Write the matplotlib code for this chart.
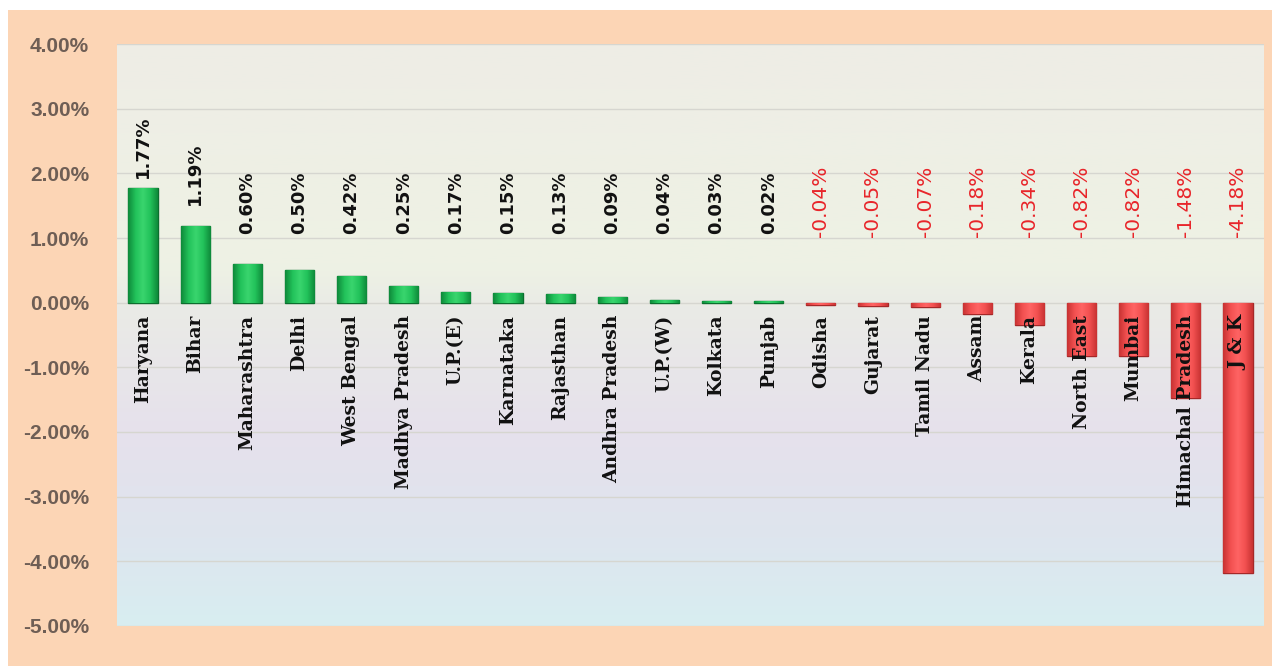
import matplotlib
matplotlib.use("Agg")
import matplotlib.pyplot as plt
import numpy as np
from matplotlib.colors import LinearSegmentedColormap
from matplotlib.patches import Rectangle

categories = ["Haryana", "Bihar", "Maharashtra", "Delhi", "West Bengal", "Madhya Pradesh",
              "U.P.(E)", "Karnataka", "Rajasthan", "Andhra Pradesh", "U.P.(W)", "Kolkata",
              "Punjab", "Odisha", "Gujarat", "Tamil Nadu", "Assam", "Kerala", "North East",
              "Mumbai", "Himachal Pradesh", "J & K"]
values = [1.77, 1.19, 0.60, 0.50, 0.42, 0.25, 0.17, 0.15, 0.13, 0.09, 0.04, 0.03, 0.02,
          -0.04, -0.05, -0.07, -0.18, -0.34, -0.82, -0.82, -1.48, -4.18]
yticks = [-5, -4, -3, -2, -1, 0, 1, 2, 3, 4]
ytick_labels = ["-5.00%", "-4.00%", "-3.00%", "-2.00%", "-1.00%", "0.00%", "1.00%", "2.00%", "3.00%", "4.00%"]

W, H = 1276, 666
fig = plt.figure(figsize=(W / 100, H / 100), dpi=100)
fig.patch.set_facecolor("white")
fig.patches.append(Rectangle((8 / W, 0), (W - 12) / W, (H - 10) / H, transform=fig.transFigure,
                             facecolor="#FCD5B5", edgecolor="none", zorder=-10))

ax = fig.add_axes([117 / W, 1 - 626 / H, (1264 - 117) / W, (626 - 44) / H])
ax.set_xlim(-0.5, len(categories) - 0.5)
ax.set_ylim(-5, 4)

# background gradient of plot area
bg_cmap = LinearSegmentedColormap.from_list("bg", [
    (0.0, "#D8EEF1"), (0.15, "#DEE5EE"), (0.33, "#E6E1EC"), (0.55, "#EAEBE6"),
    (0.62, "#EEF2E4"), (1.0, "#EEEDE6")])
grad = np.linspace(0, 1, 256).reshape(-1, 1)
ax.imshow(grad, aspect="auto", cmap=bg_cmap, origin="lower",
          extent=(-0.5, len(categories) - 0.5, -5, 4), zorder=0)

for yv in yticks:
    ax.axhline(yv, color="#D6D6D0", lw=1.0, zorder=1)

x = np.arange(len(categories))
pos_cmap = LinearSegmentedColormap.from_list("pos", ["#0E8A3A", "#22C25A", "#39D56E", "#22C25A", "#0E8A3A"])
neg_cmap = LinearSegmentedColormap.from_list("neg", ["#C83232", "#F25050", "#FF6464", "#F25050", "#C83232"])
bars = ax.bar(x, values, width=0.56, color=["#20B252" if v >= 0 else "#F04848" for v in values],
              edgecolor=["#0C6E2E" if v >= 0 else "#A52828" for v in values], linewidth=1.0, zorder=2)
hgrad = np.linspace(0, 1, 64).reshape(1, -1)
for b, v in zip(bars, values):
    x0, y0 = b.get_x(), b.get_y()
    w, h = b.get_width(), b.get_height()
    im = ax.imshow(hgrad, aspect="auto", cmap=pos_cmap if v >= 0 else neg_cmap,
                   extent=(x0, x0 + w, y0, y0 + h), zorder=2.5)
    im.set_clip_path(b)

ax.set_xlim(-0.5, len(categories) - 0.5)
ax.set_ylim(-5, 4)

# value labels
for xi, v in zip(x, values):
    if v >= 0:
        yc = 1.55 + 0.74 * max(v - 0.6, 0)
        ax.text(xi, yc, f"{v:.2f}%", rotation=90, ha="center", va="center",
                fontsize=13, fontweight="bold", color="#111111", family="DejaVu Sans", zorder=4)
    else:
        ax.text(xi, 1.57, f"{v:.2f}%", rotation=90, ha="center", va="center",
                fontsize=14.5, color="#E8252A", family="DejaVu Sans", zorder=4)

# category labels
for xi, c in zip(x, categories):
    ax.text(xi, -0.19, c, rotation=90, ha="center", va="top", fontsize=13.5,
            fontweight="bold", family="DejaVu Serif", color="#111111", zorder=4)

ax.set_xticks([])
ax.set_yticks(yticks)
ax.set_yticklabels(ytick_labels, fontsize=15, fontweight="bold", color="#6E5E55",
                   family="Liberation Sans")
ax.tick_params(axis="y", length=0, pad=20)
for s in ax.spines.values():
    s.set_visible(False)

fig.savefig("out.png", dpi=100)
